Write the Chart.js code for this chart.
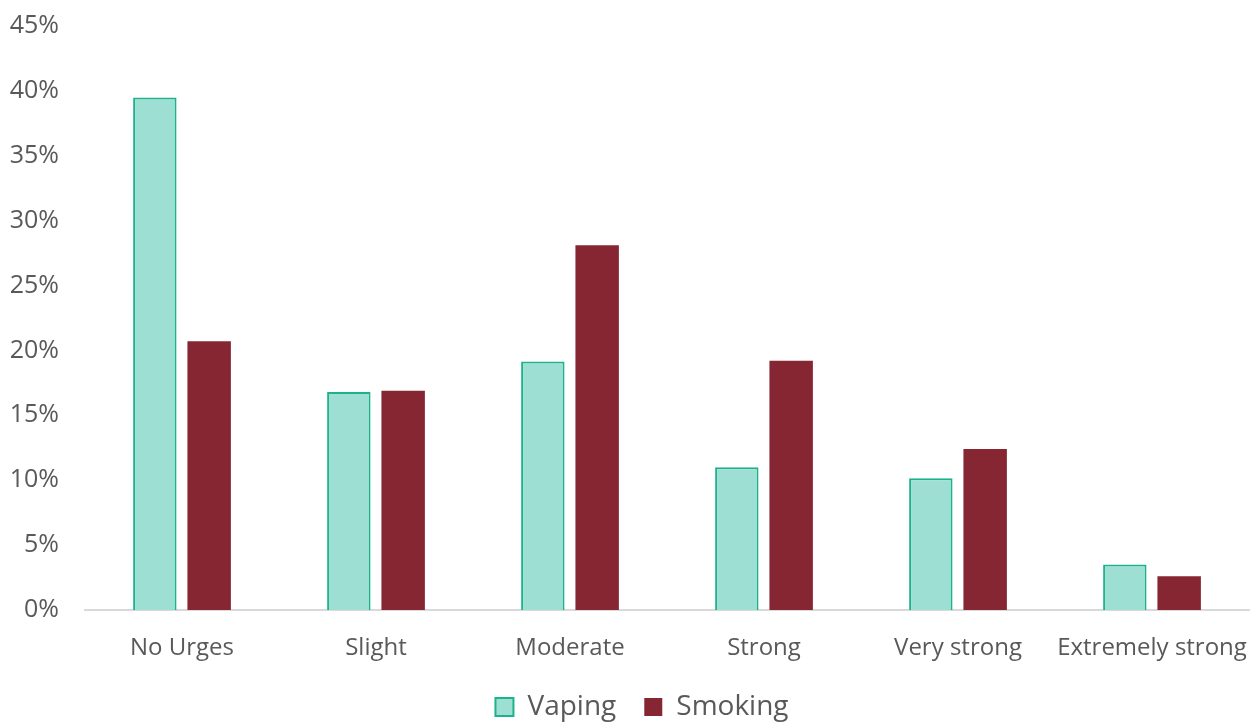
<!DOCTYPE html>
<html>
<head>
<meta charset="utf-8">
<script src="https://cdn.jsdelivr.net/npm/chart.js@4/dist/chart.umd.min.js"></script>
<style>
  html, body { margin: 0; padding: 0; background: #fff; }
  #wrap { width: 1252px; height: 722px; position: relative; }
</style>
</head>
<body>
<div id="wrap"><canvas id="grafica"></canvas></div>
<script>
const categorias = ['No Urges', 'Slight', 'Moderate', 'Strong', 'Very strong', 'Extremely strong'];
const vaping = [39.5, 16.8, 19.15, 11.0, 10.15, 3.5];
const smoking = [20.7, 16.9, 28.1, 19.2, 12.4, 2.6];
const ticksY = [0, 5, 10, 15, 20, 25, 30, 35, 40, 45];

const fuente = "'Open Sans', 'Liberation Sans', sans-serif";

// corre la leyenda un poco a la izquierda, como en el original
const moverLeyenda = {
    id: 'moverLeyenda',
    afterLayout(chart) {
        chart.legend.left -= 25;
        chart.legend.right -= 25;
    }
};

document.addEventListener('DOMContentLoaded', () => {
    new Chart(document.getElementById('grafica'), {
        type: 'bar',
        data: {
            labels: categorias,
            datasets: [{
                label: 'Vaping',
                data: vaping,
                backgroundColor: '#9ddfd3',
                borderColor: '#1db28e',
                borderWidth: 2,
                borderSkipped: 'bottom'
            }, {
                label: 'Smoking',
                data: smoking,
                backgroundColor: '#862633',
                borderWidth: 0
            }]
        },
        plugins: [moverLeyenda],
        options: {
            responsive: true,
            maintainAspectRatio: false,
            animation: false,
            categoryPercentage: 0.56,
            barPercentage: 0.8,
            layout: { padding: { left: 9, right: 3, top: 26, bottom: -9 } },
            plugins: {
                tooltip: { enabled: false },
                legend: {
                    position: 'bottom',
                    fullSize: false,
                    labels: {
                        color: '#595959',
                        font: { family: fuente, size: 28 },
                        boxWidth: 18,
                        boxHeight: 18,
                        padding: 28
                    }
                }
            },
            scales: {
                x: {
                    grid: { display: false, drawTicks: false },
                    border: { color: '#d9d9d9', width: 2 },
                    ticks: {
                        color: '#595959',
                        font: { family: fuente, size: 24 },
                        padding: 24,
                        maxRotation: 0,
                        autoSkip: false
                    },
                    afterFit: (axis) => {
                        axis.height = 55;
                        axis.paddingLeft = 0;
                        axis.paddingRight = 0;
                    }
                },
                y: {
                    min: 0,
                    max: 45,
                    afterBuildTicks: (axis) => {
                        axis.ticks = ticksY.map(v => ({ value: v }));
                    },
                    grid: { display: false, drawTicks: false },
                    border: { display: false },
                    ticks: {
                        color: '#595959',
                        font: { family: fuente, size: 25 },
                        padding: 26,
                        callback: (v) => v + '%'
                    },
                    afterFit: (axis) => {
                        axis.width = 76;
                        axis.paddingTop = 0;
                        axis.paddingBottom = 0;
                    }
                }
            }
        }
    });
});
</script>
</body>
</html>
